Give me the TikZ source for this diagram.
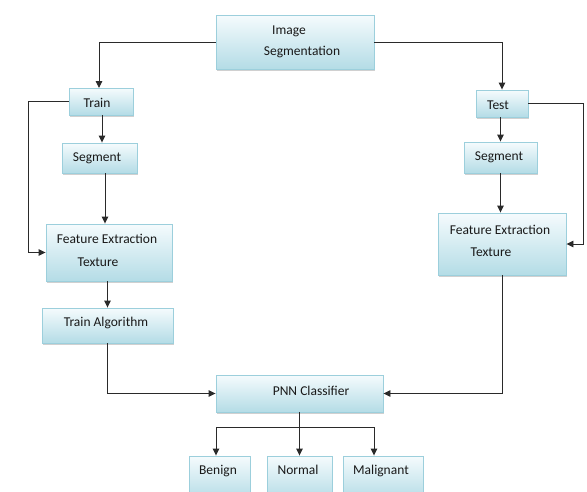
\documentclass[tikz,border=0pt]{standalone}
\usepackage{fontspec}
\setmainfont{Carlito}
\usetikzlibrary{arrows.meta,shadows}
\definecolor{boxtop}{HTML}{F5FBFD}
\definecolor{boxbot}{HTML}{B4DCE6}
\definecolor{boxline}{HTML}{9CCFDC}
\definecolor{linecol}{HTML}{2A2A2A}
\tikzset{
  box/.style={draw=boxline, line width=0.9pt, top color=boxtop, bottom color=boxbot,
    drop shadow={shadow xshift=1.2pt, shadow yshift=-1.8pt, fill=black!30, opacity=0.6},
    inner sep=0pt, rectangle},
  lbl/.style={font=\fontsize{13.5}{15}\selectfont, text=black!90, inner sep=0pt, anchor=center},
  conn/.style={draw=linecol, line width=0.9pt, -{Triangle[length=7pt,width=6.5pt]}},
  plain/.style={draw=linecol, line width=0.9pt}
}
\newcommand{\mybox}[5]{%
  \node[box, minimum width={(#4-#2)*1pt}, minimum height={(#5-#3)*1pt}] (#1) at ({(#2+#4)/2},{(#3+#5)/2}) {};}
\begin{document}
\begin{tikzpicture}[x=1pt,y=-1pt]
\useasboundingbox (0,0) rectangle (587,491);
\clip (0,0) rectangle (587,491);
\fill[white] (0,0) rectangle (587,491);
% boxes
\mybox{imgseg}{216}{15}{374}{69}
\mybox{train}{69}{88}{133}{115}
\mybox{segl}{62}{143}{137}{173}
\mybox{featl}{46}{224}{172}{281}
\mybox{alg}{42}{308}{173}{343}
\mybox{pnn}{216}{375}{383}{412}
\mybox{test}{476}{90}{528}{117}
\mybox{segr}{464}{142}{537}{173}
\mybox{featr}{438}{213}{566}{275}
\mybox{benign}{189}{456}{250}{500}
\mybox{normal}{267}{456}{332}{500}
\mybox{malig}{343}{456}{423}{500}
% texts
\node[lbl] (t1) at (289,31) {Image};
\node[lbl] (t2) at (302,52) {Segmentation};
\node[lbl] (t3) at (97,103) {Train};
\node[lbl] (t4) at (97,158) {Segment};
\node[lbl] (t5) at (107,239) {Feature Extraction};
\node[lbl] (t6) at (98,262) {Texture};
\node[lbl] (t7) at (106,323) {Train Algorithm};
\node[lbl] (t8) at (311,391) {PNN Classifier};
\node[lbl] (t9) at (498,105) {Test};
\node[lbl] (t10) at (499,157) {Segment};
\node[lbl] (t11) at (500,230) {Feature Extraction};
\node[lbl] (t12) at (491,252) {Texture};
\node[lbl] (t13) at (218,471) {Benign};
\node[lbl] (t14) at (298,470) {Normal};
\node[lbl] (t15) at (381,471) {Malignant};
% coordinates
\coordinate (ltrain) at (99,88);
\coordinate (lback) at (28,101);
\coordinate (rback) at (583,103);
\coordinate (bl) at (216,427);
\coordinate (mr) at (374,427);
% connectors
\draw[conn] (imgseg.west) -| (ltrain);
\draw[conn] (imgseg.east) -| (test.north);
\draw[conn] (train.west |- lback) -- (lback) |- (featl.west);
\draw[conn] ([xshift=1pt]train.south) -- ([xshift=1pt]train.south |- segl.north);
\draw[conn] ([xshift=5.5pt]segl.south) -- ([xshift=5.5pt]segl.south |- featl.north);
\draw[conn] (alg.north |- featl.south) -- (alg.north);
\draw[conn] (alg.south) |- (pnn.west);
\draw[conn] (test.east |- rback) -- (rback) |- (featr.east);
\draw[conn] (segr.north |- test.south) -- (segr.north);
\draw[conn] (segr.south) -- (segr.south |- featr.north);
\draw[conn] (featr.south) |- (pnn.east);
\draw[plain] (pnn.south) -- (pnn.south |- bl);
\draw[plain] (bl) -- (mr);
\draw[conn] (bl) -- (bl |- benign.north);
\draw[conn] (pnn.south |- bl) -- (normal.north);
\draw[conn] (mr) -- (mr |- malig.north);
\end{tikzpicture}
\end{document}
